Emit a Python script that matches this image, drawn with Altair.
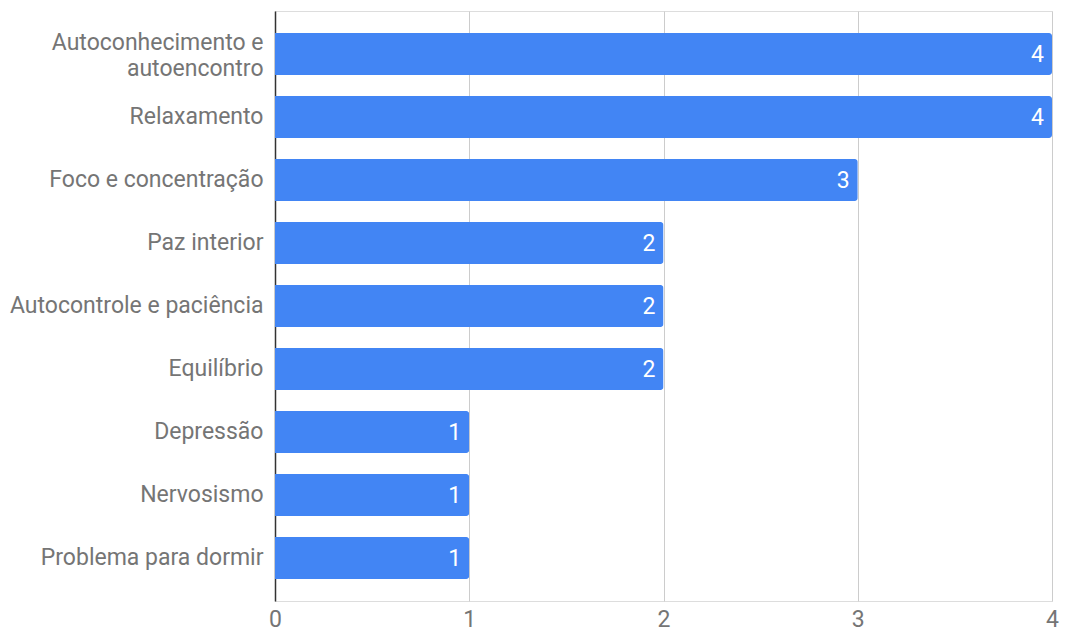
import altair as alt
import pandas as pd

categories = [
    "Autoconhecimento e autoencontro",
    "Relaxamento",
    "Foco e concentração",
    "Paz interior",
    "Autocontrole e paciência",
    "Equilíbrio",
    "Depressão",
    "Nervosismo",
    "Problema para dormir",
]
values = [4, 4, 3, 2, 2, 2, 1, 1, 1]

df = pd.DataFrame({"cat": categories, "val": values})

FONT = "Roboto"
FS = 23

y_enc = alt.Y(
    "cat:N",
    sort=categories,
    title=None,
    scale=alt.Scale(paddingInner=0.336, paddingOuter=0.35),
    axis=alt.Axis(
        labelFont=FONT,
        labelFontSize=FS,
        labelColor="#757575",
        labelPadding=12,
        ticks=False,
        domain=True,
        domainColor="#333333",
        domainWidth=1.5,
        labelLimit=400,
        labelLineHeight=26,
        labelOffset={
            "condition": {"test": "datum.value == 'Autoconhecimento e autoencontro'", "value": -11},
            "value": 0,
        },
        labelExpr="datum.label == 'Autoconhecimento e autoencontro' ? ['Autoconhecimento e', 'autoencontro'] : datum.label",
    ),
)

x_enc = alt.X(
    "val:Q",
    title=None,
    scale=alt.Scale(domain=[0, 4], nice=False),
    axis=alt.Axis(
        values=[0, 1, 2, 3, 4],
        format="d",
        labelFont=FONT,
        labelFontSize=FS,
        labelColor="#757575",
        labelPadding=7,
        labelFlush=False,
        ticks=False,
        domain=False,
        grid=True,
        gridColor="#cccccc",
        gridWidth=1,
    ),
)

bars = alt.Chart(df).mark_bar(
    color="#4285F4", cornerRadiusTopRight=3, cornerRadiusBottomRight=3
).encode(y=y_enc, x=x_enc)

text = alt.Chart(df).mark_text(
    align="right", baseline="middle", dx=-8, dy=1, color="white", font=FONT, fontSize=FS
).encode(
    y=alt.Y("cat:N", sort=categories),
    x=alt.X("val:Q"),
    text=alt.Text("val:Q", format="d"),
)

chart = (
    alt.layer(bars, text)
    .properties(
        width=777,
        height=590,
        autosize=alt.AutoSizeParams(type="none"),
        padding={"left": 267, "top": 3, "right": 8, "bottom": 31},
    )
    .configure_view(stroke=None)
    .configure(background="white")
)

chart.save("out.html", embed_options={"renderer": "svg", "actions": False})
